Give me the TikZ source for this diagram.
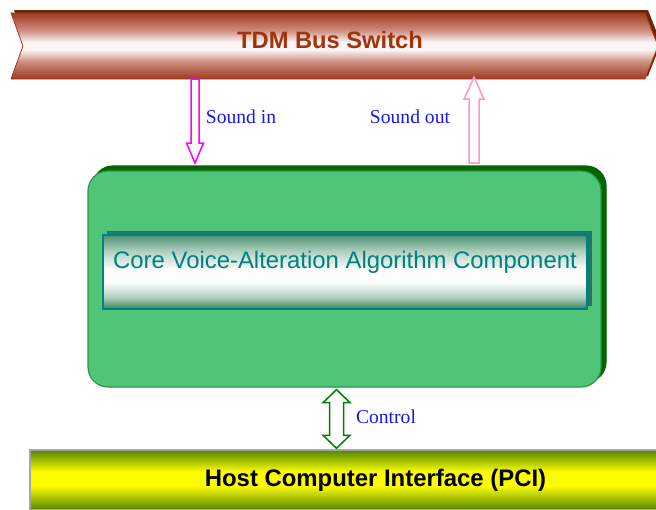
\documentclass[tikz,border=0pt]{standalone}
\usepackage{fontspec}
\setmainfont{Liberation Serif}
\newfontfamily\arialfont{Liberation Sans}
\usetikzlibrary{calc,shadows}
\definecolor{tdmdark}{RGB}{158,58,32}
\definecolor{tdmmid}{RGB}{205,140,125}
\definecolor{tdmlight}{RGB}{250,244,242}
\definecolor{tdmshadow}{RGB}{110,38,10}
\definecolor{tdmtext}{RGB}{160,52,12}
\definecolor{boxgreen}{RGB}{79,198,119}
\definecolor{boxedge}{RGB}{45,150,70}
\definecolor{boxshadow}{RGB}{0,100,0}
\definecolor{algedge}{RGB}{0,128,128}
\definecolor{algside}{RGB}{30,120,110}
\definecolor{algtop}{RGB}{75,143,112}
\definecolor{algmid}{RGB}{175,208,192}
\definecolor{algbot}{RGB}{55,128,88}
\definecolor{algwhite}{RGB}{252,253,252}
\definecolor{algtext}{RGB}{0,128,128}
\definecolor{hostgreen}{RGB}{80,135,0}
\definecolor{hostyellow}{RGB}{252,252,0}
\definecolor{lblue}{RGB}{25,25,230}
\definecolor{soundin}{RGB}{255,0,255}
\definecolor{soundout}{RGB}{255,150,200}
\definecolor{ctrl}{RGB}{0,128,0}
\pgfdeclareverticalshading{tdmshade}{100bp}{color(0bp)=(tdmdark); color(25bp)=(tdmdark); color(38bp)=(tdmmid); color(47bp)=(tdmlight); color(53bp)=(tdmlight); color(62bp)=(tdmmid); color(75bp)=(tdmdark); color(100bp)=(tdmdark)}
\pgfdeclareverticalshading{algshade}{100bp}{color(0bp)=(algbot); color(25bp)=(algbot); color(33bp)=(algmid); color(43bp)=(algwhite); color(52bp)=(algwhite); color(64bp)=(algmid); color(75bp)=(algtop); color(100bp)=(algtop)}
\pgfdeclareverticalshading{hostshade}{100bp}{color(0bp)=(hostgreen); color(25bp)=(hostgreen); color(45bp)=(hostyellow); color(57bp)=(hostyellow); color(75bp)=(hostgreen); color(100bp)=(hostgreen)}
\begin{document}
\begin{tikzpicture}[x=1pt,y=-1pt,
  lbl/.style={font=\fontsize{19.6}{22}\selectfont, text=lblue, inner sep=0pt},
  tdmtxt/.style={font=\arialfont\bfseries\fontsize{23.7}{28}\selectfont, text=tdmtext, minimum width=638pt, minimum height=66pt, text depth=13pt, inner sep=0pt},
  corebox/.style={fill=boxgreen, draw=boxedge, line width=1.2pt, rounded corners=20pt, minimum width=513pt, minimum height=216pt, inner sep=0pt,
     copy shadow={shadow xshift=5pt, shadow yshift=5pt, fill=boxshadow, draw=boxshadow}},
  algbox/.style={shading=algshade, draw=algedge, line width=1.2pt, minimum width=484pt, minimum height=74pt, inner sep=0pt,
     copy shadow={shadow xshift=4pt, shadow yshift=4pt, fill=algside, draw=algedge, line width=1pt}},
  algtxt/.style={font=\arialfont\fontsize{23.9}{28}\selectfont, text=algtext, inner sep=0pt},
  hostbar/.style={shading=hostshade, draw=gray!70, line width=1.5pt, minimum width=691pt, minimum height=60pt, inner sep=0pt,
     font=\arialfont\bfseries\fontsize{23.9}{28}\selectfont, text=black},
  arrin/.style={draw=soundin, fill=white, line width=1.5pt, line join=miter},
  arrout/.style={draw=soundout, fill=white, line width=1.5pt, line join=miter},
  arrctl/.style={draw=ctrl, fill=white, line width=1.5pt, line join=miter}]
\useasboundingbox (0,0) rectangle (656,509);
\clip (0,0) rectangle (656,509);
\fill[white] (0,0) rectangle (656,509);
% TDM bar
\fill[tdmshadow] (14,10) -- (648,10) -- (661,43) -- (648,76) -- (14,76) -- (26,43) -- cycle;
\shade[shading=tdmshade, draw=tdmdark, line width=0.8pt] (11,13) -- (645,13) -- (658,46) -- (645,79) -- (11,79) -- (23,46) -- cycle;
\node[tdmtxt] (tdm) at (330,46) {TDM Bus Switch};
% core box
\node[corebox] (core) at (344.5,279) {};
\node[algbox] (alg) at (345,272) {};
\node[algtxt] (algt) at ($(alg.center)+(0,-10)$) {Core Voice-Alteration Algorithm Component};
% host bar
\node[hostbar] (host) at (375.5,480) {Host Computer Interface (PCI)};
% sound in
\coordinate (inTip) at (195,163);
\coordinate (inTop) at (inTip |- tdm.south);
\draw[arrin] ($(inTop)+(-4,0)$) -- ($(inTip)+(-4,-20)$) -- ($(inTip)+(-8.5,-20)$) -- (inTip) -- ($(inTip)+(8.5,-20)$) -- ($(inTip)+(4,-20)$) -- ($(inTop)+(4,0)$) -- cycle;
\node[lbl] (sin) at (241,117) {Sound in};
% sound out
\coordinate (outBase) at (474,163);
\coordinate (outTip) at ($(outBase |- tdm.south)+(0,-2)$);
\draw[arrout] ($(outBase)+(-5,0)$) -- ($(outTip)+(-5,22)$) -- ($(outTip)+(-10,22)$) -- (outTip) -- ($(outTip)+(10,22)$) -- ($(outTip)+(5,22)$) -- ($(outBase)+(5,0)$) -- cycle;
\node[lbl] (sout) at (410,117) {Sound out};
% control
\coordinate (cTop) at ($(core.south)+(-8,2)$);
\coordinate (cBot) at ($(cTop |- host.north)+(0,-1)$);
\draw[arrctl] (cTop) -- ($(cTop)+(13.5,13)$) -- ($(cTop)+(7,13)$) -- ($(cBot)+(7,-13)$) -- ($(cBot)+(13.5,-13)$) -- (cBot) -- ($(cBot)+(-13.5,-13)$) -- ($(cBot)+(-7,-13)$) -- ($(cTop)+(-7,13)$) -- ($(cTop)+(-13.5,13)$) -- cycle;
\node[lbl] (ctl) at (386,417) {Control};
\end{tikzpicture}
\end{document}
